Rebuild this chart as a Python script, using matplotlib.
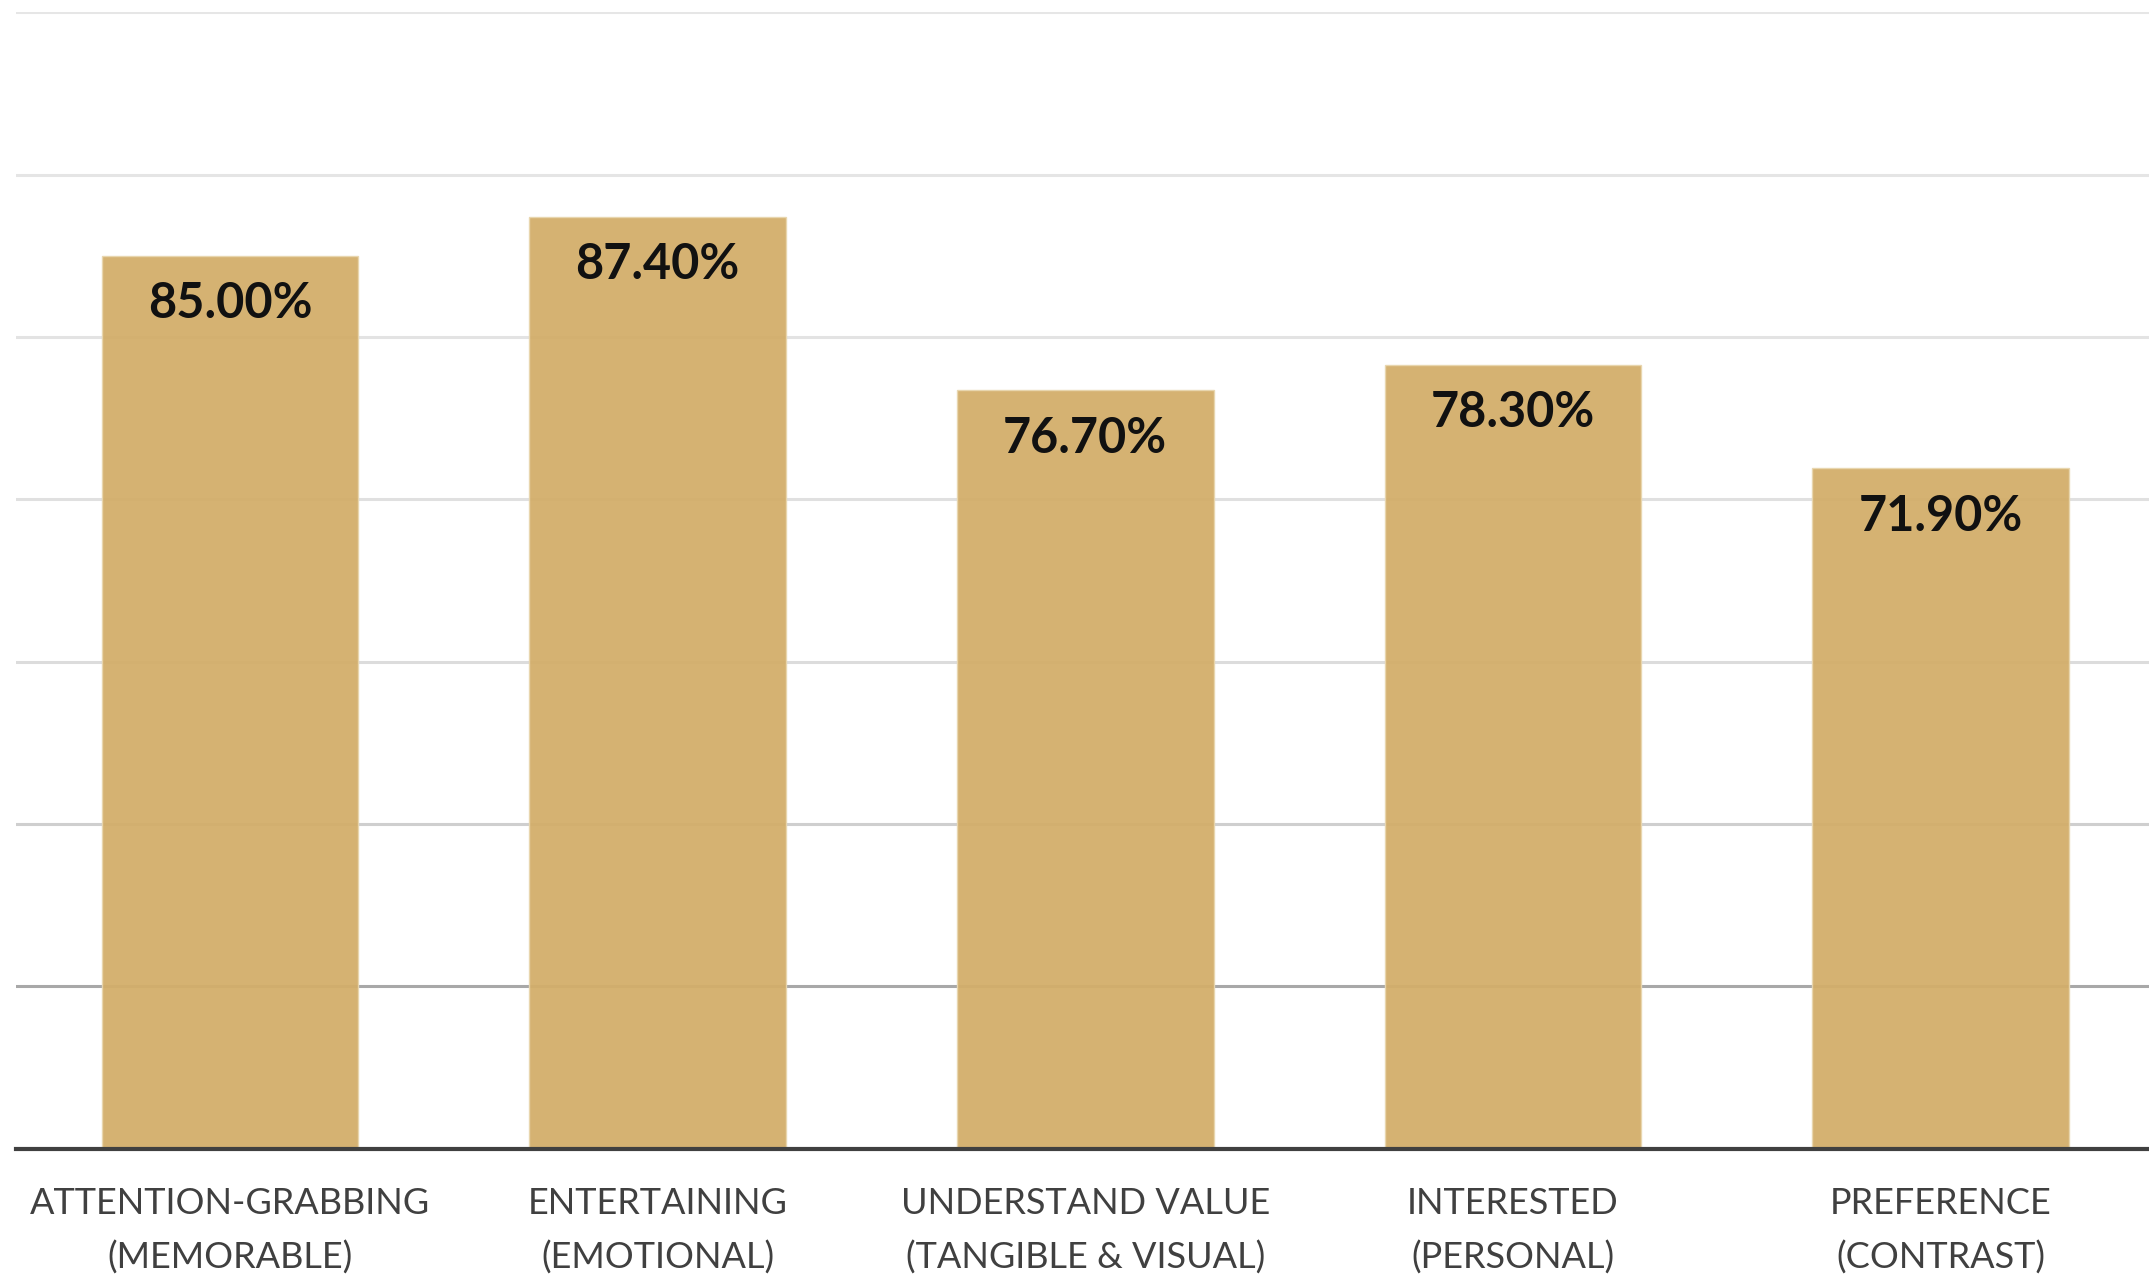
import matplotlib.pyplot as plt

# datos
categorias = ["ATTENTION-GRABBING\n(MEMORABLE)", "ENTERTAINING\n(EMOTIONAL)",
              "UNDERSTAND VALUE\n(TANGIBLE & VISUAL)", "INTERESTED\n(PERSONAL)",
              "PREFERENCE\n(CONTRAST)"]
valores = [85.00, 87.40, 76.70, 78.30, 71.90]
niveles = [40, 50, 60, 70, 80, 90, 100]
colores_grid = ["#a8a8a8", "#cfcfcf", "#dcdcdc", "#e0e0e0", "#e3e3e3", "#e5e5e5", "#e6e6e6"]

fig = plt.figure(figsize=(21.49, 12.77), dpi=100)
ax = fig.add_axes([0.0075, 0.1006, 0.995, 0.8898])

x = range(len(categorias))
ax.bar(x, valores, width=0.6, bottom=0, color="#d3ae6a", alpha=0.95,
       edgecolor="#e8d6ae", linewidth=1, zorder=2)

for nivel, c in zip(niveles, colores_grid):
    ax.axhline(nivel, color=c, linewidth=2.2, zorder=1)

for i, v in enumerate(valores):
    ax.annotate(f"{v:.2f}%", (i, v), xytext=(0, -48), textcoords="offset pixels",
                ha="center", va="center", fontsize=35, fontweight="bold",
                family="Lato", color="#111111", zorder=3)

ax.set_xlim(-0.5, 4.5)
ax.set_ylim(30, 100)
ax.set_xticks(list(x))
ax.set_xticklabels(categorias, fontsize=26, family="Lato", color="#404040",
                   linespacing=1.7)
ax.tick_params(axis="x", length=0, pad=28)
ax.set_yticks([])
for s in ["top", "right", "left"]:
    ax.spines[s].set_visible(False)
ax.spines["bottom"].set_color("#404040")
ax.spines["bottom"].set_linewidth(3)
ax.spines["bottom"].set_zorder(4)

fig.savefig("out.png", dpi=100)
